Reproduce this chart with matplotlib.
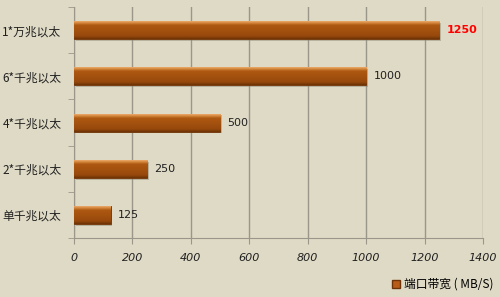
import matplotlib.pyplot as plt
import numpy as np
from matplotlib.patches import Patch
from matplotlib.colors import LinearSegmentedColormap

plt.rcParams['font.family'] = ['Noto Sans CJK SC', 'DejaVu Sans']

# data (top to bottom as shown)
categories = ['1*万兆以太', '6*千兆以太', '4*千兆以太', '2*千兆以太', '单千兆以太']
values = [1250, 1000, 500, 250, 125]
xticks = [0, 200, 400, 600, 800, 1000, 1200, 1400]
series_name = '端口带宽 ( MB/S)'

bg = '#dfdac5'
grid_c = '#9a968a'
fig = plt.figure(figsize=(5, 2.97), dpi=100, facecolor=bg)
ax = fig.add_axes([0.148, 0.199, 0.818, 0.777], facecolor=bg)

ypos = np.arange(len(categories))[::-1]

# soft shadow under the bars
ax.barh(ypos - 0.04, values, height=0.39, left=6, color='#8a8472', alpha=0.45,
        linewidth=0, zorder=2)
bars = ax.barh(ypos, values, height=0.39, color='#a4500f', edgecolor='#6e3408',
               linewidth=0.6, zorder=3)

# vertical gradient on each bar: dark bottom, flat body, bright top edge
grad = np.linspace(0, 1, 40).reshape(-1, 1)
cmap = LinearSegmentedColormap.from_list(
    'bar', [(0, '#6e3406'), (0.15, '#96480c'), (0.5, '#a5520f'),
            (0.78, '#ad5812'), (0.9, '#d2843a'), (1, '#e8a868')])
for b in bars:
    x0, y0 = b.get_x(), b.get_y()
    w, h = b.get_width(), b.get_height()
    im = ax.imshow(grad, cmap=cmap, aspect='auto', extent=[x0, x0 + w, y0, y0 + h],
                   origin='lower', zorder=3.5, interpolation='bilinear')
    im.set_clip_path(b)

for y, v in zip(ypos, values):
    if v == max(values):
        ax.text(v + 25, y, str(v), va='center', ha='left', fontsize=8,
                color='red', fontweight='bold', family='DejaVu Sans')
    else:
        ax.text(v + 25, y, str(v), va='center', ha='left', fontsize=8,
                color='#202020', family='DejaVu Sans')

ax.set_xlim(0, 1400)
ax.set_ylim(-0.5, len(categories) - 0.5)
ax.set_xticks(xticks)
ax.set_xticklabels([str(t) for t in xticks], fontstyle='italic', fontsize=8,
                   color='#202020', family='DejaVu Sans')
ax.set_yticks(ypos)
ax.set_yticklabels(categories, fontstyle='italic', fontsize=8.5, color='#202020')
ax.tick_params(axis='y', length=0, pad=9)
ax.tick_params(axis='x', length=4, color=grid_c, pad=7)
ax.set_yticks(np.arange(-0.5, len(categories)), minor=True)
ax.tick_params(axis='y', which='minor', length=4, color=grid_c)

ax.grid(axis='x', color=grid_c, linewidth=1, zorder=0)
for s in ['top', 'right']:
    ax.spines[s].set_visible(False)
ax.spines['left'].set_color(grid_c)
ax.spines['bottom'].set_color(grid_c)

fig.legend(handles=[Patch(facecolor='#b85c18', edgecolor='#6e3408', label=series_name)],
           loc='lower right', bbox_to_anchor=(1.008, -0.015), frameon=False,
           fontsize=8.5, handlelength=0.7, handleheight=0.7, handletextpad=0.3)

fig.savefig('out.png', dpi=100, facecolor=bg)
